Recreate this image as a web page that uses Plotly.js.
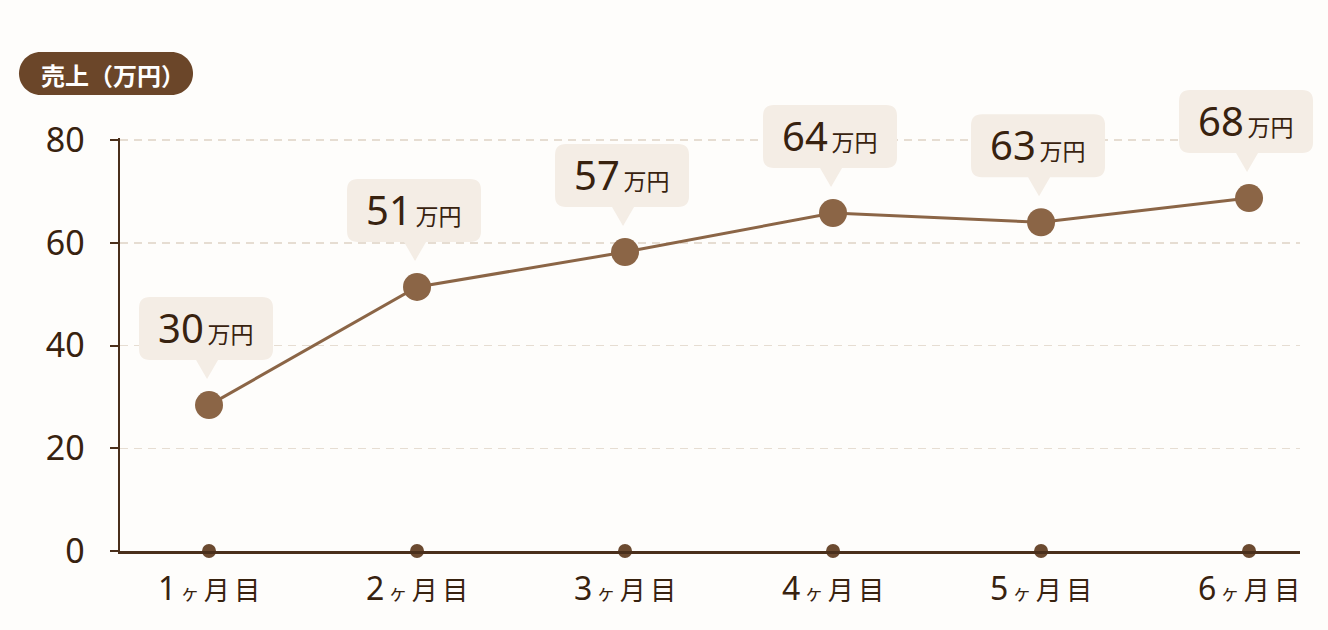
<!DOCTYPE html>
<html>
<head>
<meta charset="utf-8">
<script src="https://cdn.plot.ly/plotly-3.0.1.min.js"></script>
<style>
  html, body { margin: 0; padding: 0; background: #fefdfb; }
  #chart { width: 1328px; height: 630px; }
</style>
</head>
<body>
<div id="chart"></div>
<script>
// monthly sales, in 万円
var categories = ['1ヶ月目', '2ヶ月目', '3ヶ月目', '4ヶ月目', '5ヶ月目', '6ヶ月目'];
var sales = [28.4, 51.4, 58.2, 65.8, 64.0, 68.7];
var salesLabels = ['30', '51', '57', '64', '63', '68'];
var yTicks = [0, 20, 40, 60, 80];

var brown = '#8b6546';
var dark = '#38220f';
var axisCol = '#4a2f1b';
var calloutFill = '#f4ede5';
var fontFam = '"Noto Sans", "Noto Sans CJK JP", sans-serif';

var ticktext = categories.map(function (c) {
  var m = c.match(/^(\d+)ヶ(.*)$/);
  return "<span style='font-size:32px'>" + m[1] + '</span>\u2009' +
    "<span style='font-size:19px'>ヶ</span>\u2009" +
    m[2].split('').join('\u2009');
});

var data = [
  {
    x: categories,
    y: sales,
    type: 'scatter',
    mode: 'lines+markers',
    line: { color: brown, width: 3 },
    marker: { color: brown, size: 28 },
    cliponaxis: false,
    hoverinfo: 'skip'
  },
  {
    // little dots sitting on the x axis
    x: categories,
    y: categories.map(function () { return 0; }),
    type: 'scatter',
    mode: 'markers',
    marker: { color: '#6b4a30', size: 14 },
    cliponaxis: false,
    hoverinfo: 'skip'
  }
];

// speech-bubble path, pixels relative to the point (y up)
function bubble(w, h, r, dx, base, tipDx, tipLen, tipHalf) {
  var x0 = dx - w / 2, x1 = dx + w / 2, yb = base, yt = base + h;
  return 'M' + (x0 + r) + ',' + yb +
    ' L' + (tipDx - tipHalf) + ',' + yb +
    ' L' + tipDx + ',' + (yb - tipLen) +
    ' L' + (tipDx + tipHalf) + ',' + yb +
    ' L' + (x1 - r) + ',' + yb +
    ' Q' + x1 + ',' + yb + ' ' + x1 + ',' + (yb + r) +
    ' L' + x1 + ',' + (yt - r) +
    ' Q' + x1 + ',' + yt + ' ' + (x1 - r) + ',' + yt +
    ' L' + (x0 + r) + ',' + yt +
    ' Q' + x0 + ',' + yt + ' ' + x0 + ',' + (yt - r) +
    ' L' + x0 + ',' + (yb + r) +
    ' Q' + x0 + ',' + yb + ' ' + (x0 + r) + ',' + yb + ' Z';
}

var shapes = [];
var annotations = [];
var base = 45, boxH = 63, dx = -3;

categories.forEach(function (c, i) {
  shapes.push({
    type: 'path',
    xref: 'x', yref: 'y',
    xsizemode: 'pixel', ysizemode: 'pixel',
    xanchor: i, yanchor: sales[i],
    path: bubble(134, boxH, 11, dx, base, -2, 19, 11),
    fillcolor: calloutFill,
    line: { width: 0 },
    layer: 'above'
  });
  annotations.push({
    x: i, y: sales[i],
    xref: 'x', yref: 'y',
    xshift: dx, yshift: base + boxH / 2 + 1,
    xanchor: 'center', yanchor: 'middle',
    showarrow: false,
    text: "<span style='font-size:40px'>" + salesLabels[i] + "</span>\u2009<span style='font-size:23px'>万円</span>",
    font: { family: fontFam, color: dark, size: 23 }
  });
});

// y axis title pill
shapes.push({
  type: 'path',
  xref: 'paper', yref: 'paper',
  xsizemode: 'pixel', ysizemode: 'pixel',
  xanchor: 0, yanchor: 1,
  path: 'M-79.5,43 L51.5,43 C63.4,43 73,52.6 73,64.5 C73,76.4 63.4,86 51.5,86 L-79.5,86 C-91.4,86 -101,76.4 -101,64.5 C-101,52.6 -91.4,43 -79.5,43 Z',
  fillcolor: '#6b4629',
  line: { width: 0 },
  layer: 'above'
});
annotations.push({
  xref: 'paper', yref: 'paper',
  x: 0, y: 1,
  xshift: -7, yshift: 64,
  xanchor: 'center', yanchor: 'middle',
  showarrow: false,
  text: '売上（万円）',
  font: { family: '"Noto Sans CJK JP", sans-serif', color: '#ffffff', size: 24, weight: 700 }
});

var layout = {
  width: 1328,
  height: 630,
  paper_bgcolor: '#fefdfb',
  plot_bgcolor: '#fefdfb',
  showlegend: false,
  margin: { l: 120, r: 28, t: 138, b: 79, autoexpand: false },
  font: { family: fontFam, color: dark },
  xaxis: {
    type: 'category',
    range: [-0.428, 5.245],
    tickvals: categories,
    ticktext: ticktext,
    tickfont: { family: fontFam, size: 26, color: dark },
    showgrid: false,
    zeroline: false,
    showline: true,
    linecolor: axisCol,
    linewidth: 3,
    ticks: '',
    ticklabelstandoff: 15,
    fixedrange: true
  },
  yaxis: {
    range: [0, 80.4],
    tickvals: yTicks,
    tickfont: { family: fontFam, size: 34, color: dark },
    showgrid: true,
    gridcolor: '#e6ddd2',
    gridwidth: 1.5,
    griddash: '8px,6px',
    zeroline: false,
    showline: true,
    linecolor: axisCol,
    linewidth: 2.5,
    ticks: 'outside',
    ticklen: 8,
    tickwidth: 2,
    tickcolor: axisCol,
    ticklabelstandoff: 18,
    fixedrange: true
  },
  shapes: shapes,
  annotations: annotations
};

// let the callouts spill over the top of the plot area
function unclip(gd) {
  gd.querySelectorAll('.shapelayer, .shapelayer path, .layer-above, .layer-above g').forEach(function (el) {
    el.removeAttribute('clip-path');
    el.style.clipPath = 'none';
  });
}

Plotly.newPlot('chart', data, layout, { displayModeBar: false, staticPlot: true }).then(function (gd) {
  unclip(gd);
  gd.on('plotly_afterplot', function () { unclip(gd); });
});
</script>
</body>
</html>
